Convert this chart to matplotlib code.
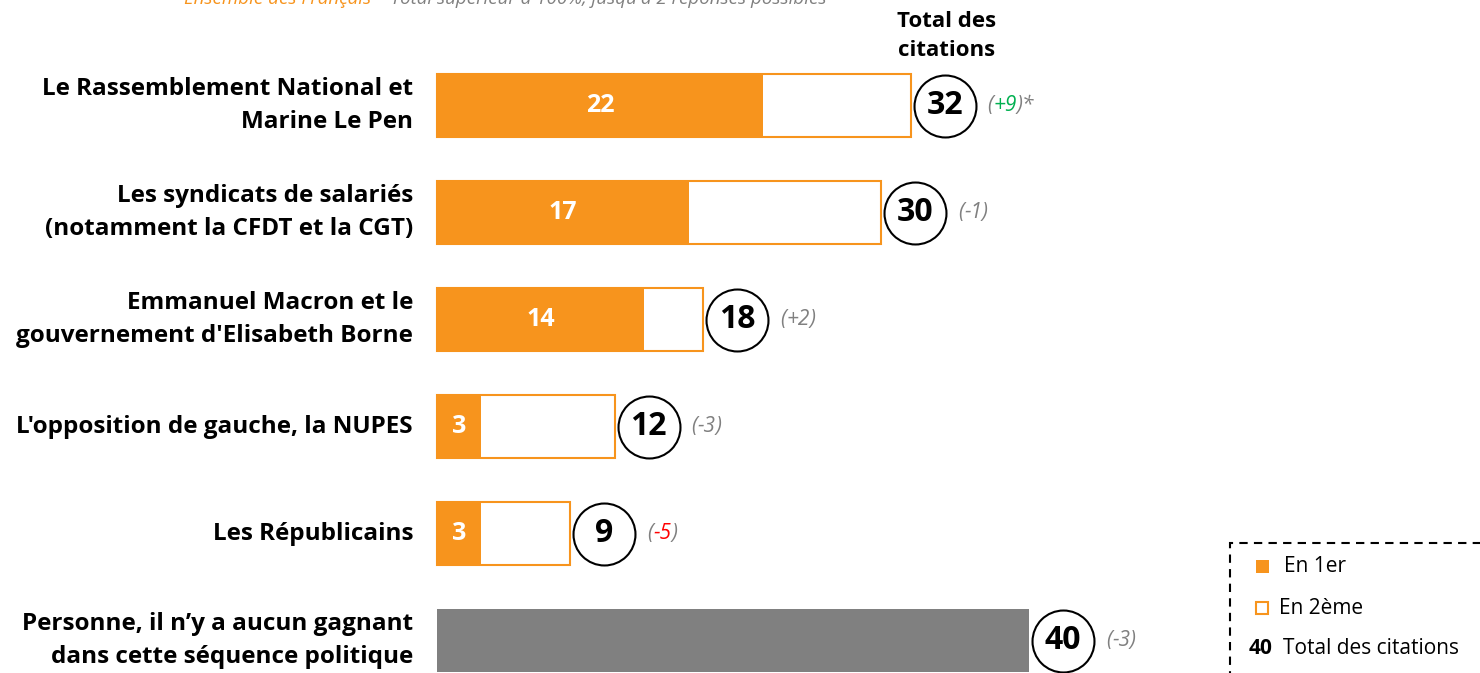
import matplotlib
matplotlib.use("Agg")
from matplotlib import pyplot as plt
from matplotlib.patches import Rectangle

categories = [
    "Le Rassemblement National et\nMarine Le Pen",
    "Les syndicats de salariés\n(notamment la CFDT et la CGT)",
    "Emmanuel Macron et le\ngouvernement d'Elisabeth Borne",
    "L'opposition de gauche, la NUPES",
    "Les Républicains",
    "Personne, il n\u2019y a aucun gagnant\ndans cette séquence politique",
]
en_1er = [22, 17, 14, 3, 3, None]
total = [32, 30, 18, 12, 9, 40]
evolution = ["+9", "-1", "+2", "-3", "-5", "-3"]

ORANGE = "#F7941D"
GREY = "#808080"
GREEN = "#00B050"
RED = "#FF0000"

plt.rcParams['font.family'] = ['Open Sans', 'DejaVu Sans']

W, H = 1480, 673
fig = plt.figure(figsize=(W / 100, H / 100), dpi=100)
ax = fig.add_axes([0, 0, 1, 1])
ax.axis("off")

# pixel -> data mapping: x_px = 437 + v * 14.8 ; row i center at 105.5 + 107 * i
x0, unit = 437, 14.8
ax.set_xlim(-x0 / unit, (W - x0) / unit)
ax.set_ylim((H - 105.5) / 107, -105.5 / 107)

bar_h = 0.59
for i, (cat, first, tot, ev) in enumerate(zip(categories, en_1er, total, evolution)):
    if first is None:
        ax.barh(i, tot, height=bar_h, color=GREY, edgecolor="none")
    else:
        ax.barh(i, tot, height=bar_h, color="white", edgecolor=ORANGE, linewidth=1.5)
        ax.barh(i, first, height=bar_h, color=ORANGE, edgecolor="none")
        ax.text(first / 2, i, str(first), ha="center", va="center",
                color="white", fontsize=18, fontweight="bold")
    ax.text(-1.62, i, cat, ha="right", va="center", fontsize=17.5,
            fontweight="bold", linespacing=1.55)
    cx = tot + 2.3
    ax.scatter([cx], [i], s=1990, facecolor="white", edgecolor="black",
               linewidth=1.5, zorder=3)
    ax.text(cx, i, str(tot), ha="center", va="center", fontsize=23,
            fontweight="bold", zorder=4)
    col = GREEN if ev == "+9" else (RED if ev == "-5" else GREY)
    tx = cx + 2.9
    t1 = ax.text(tx, i, "(", ha="left", va="center", fontsize=15,
                 style="italic", color=GREY)
    fig.canvas.draw()
    r = fig.canvas.get_renderer()
    bb = t1.get_window_extent(r)
    t2 = ax.annotate(ev, xy=(bb.x1, 0), xycoords=("figure pixels", "data"),
                     xytext=(0, i), textcoords=("offset pixels", "data"),
                     ha="left", va="center", fontsize=15, style="italic", color=col)
    bb2 = t2.get_window_extent(r)
    ax.annotate(")*" if ev == "+9" else ")", xy=(bb2.x1, 0),
                xycoords=("figure pixels", "data"),
                xytext=(0, i), textcoords=("offset pixels", "data"),
                ha="left", va="center", fontsize=15, style="italic", color=GREY)

# column header
fig.text(947 / W, 1 - 36 / H, "Total des\ncitations", ha="center", va="center",
         fontsize=16, fontweight="bold", linespacing=1.56)

# cut-off subtitle at top
fig.canvas.draw()
r = fig.canvas.get_renderer()
st = fig.text(826 / W, 1 + 0.5 / H, " \u2013 Total supérieur à 100%, jusqu'à 2 réponses possibles",
              ha="right", va="center", fontsize=13.5, style="italic", color=GREY)
bb = st.get_window_extent(r)
fig.text(bb.x0 / W, 1 + 0.5 / H, "Ensemble des Français", ha="right", va="center",
         fontsize=13.5, style="italic", color=ORANGE)

# legend box
fig.patches.append(Rectangle((1230 / W, -0.05), 0.3, (H - 543) / H + 0.05,
                             transform=fig.transFigure, fill=False,
                             edgecolor="black", linewidth=1.5,
                             linestyle=(0, (4, 3))))
fig.patches.append(Rectangle((1256 / W, 1 - 573 / H), 13 / W, 13 / H,
                             transform=fig.transFigure, facecolor=ORANGE,
                             edgecolor="none"))
fig.patches.append(Rectangle((1256 / W, 1 - 614 / H), 12 / W, 12 / H,
                             transform=fig.transFigure, facecolor="white",
                             edgecolor=ORANGE, linewidth=1.5))
fig.text(1284 / W, 1 - 566 / H, "En 1er", ha="left", va="center", fontsize=15)
fig.text(1279 / W, 1 - 608 / H, "En 2ème", ha="left", va="center", fontsize=15)
fig.text(1249 / W, 1 - 648 / H, "40", ha="left", va="center", fontsize=15,
         fontweight="bold")
fig.text(1283 / W, 1 - 648 / H, "Total des citations", ha="left", va="center",
         fontsize=15)

fig.savefig("out.png", dpi=100)
